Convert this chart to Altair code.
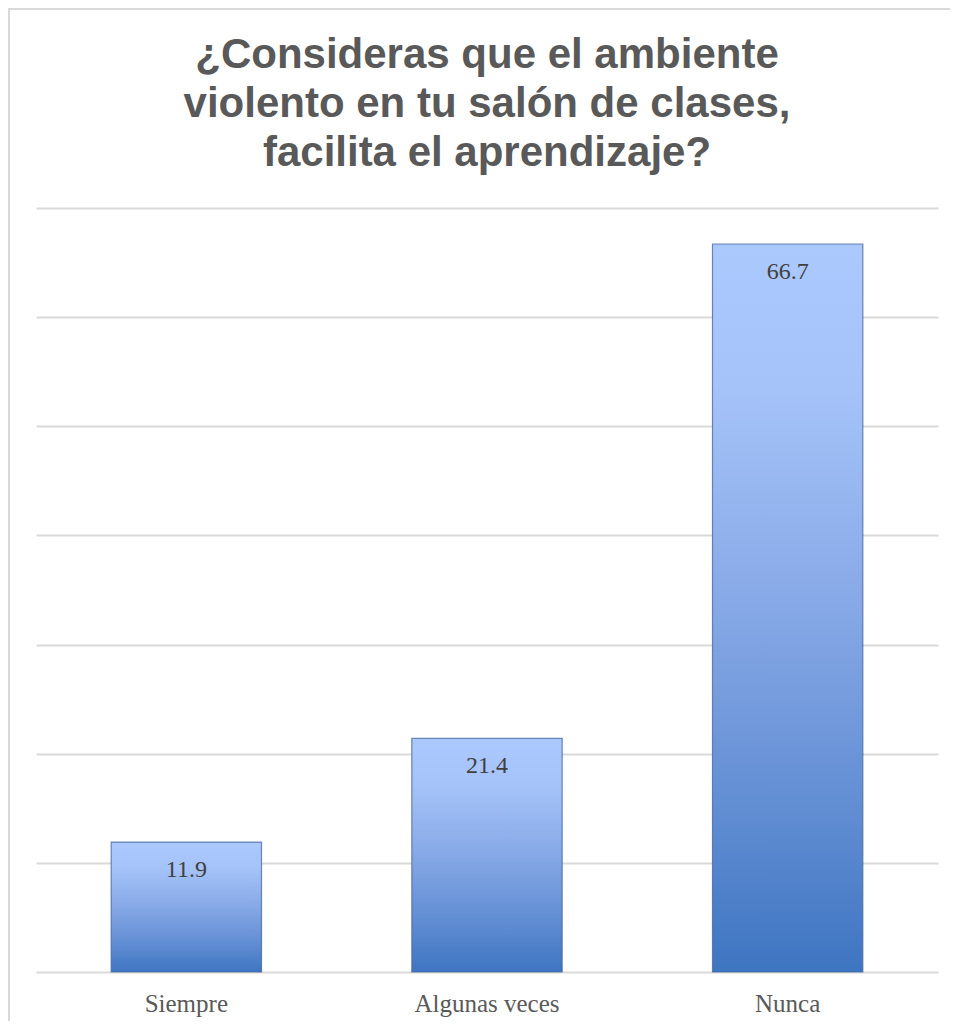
import altair as alt
import pandas as pd

categories = ["Siempre", "Algunas veces", "Nunca"]
values = [11.9, 21.4, 66.7]
title_lines = ["¿Consideras que el ambiente", "violento en tu salón de clases,", "facilita el aprendizaje?"]

df = pd.DataFrame({"cat": categories, "val": values})

W, H = 902, 764

x_enc = alt.X("cat:N", sort=categories, title=None,
              scale=alt.Scale(paddingInner=0.5, paddingOuter=0.25),
              axis=alt.Axis(labelAngle=0, labelFont="Liberation Serif", labelFontSize=25,
                            labelColor="#595959", labelPadding=19, ticks=False, domain=False))
y_enc = alt.Y("val:Q", title=None, scale=alt.Scale(domain=[0, 70], nice=False),
              axis=alt.Axis(values=[0, 10, 20, 30, 40, 50, 60, 70], labels=False, ticks=False,
                            domain=False, grid=True, gridColor="#d9d9d9", gridWidth=2))

grad = alt.Gradient(
    gradient="linear",
    stops=[alt.GradientStop(color="#abc9fd", offset=0),
           alt.GradientStop(color="#a5c3f9", offset=0.2),
           alt.GradientStop(color="#86a8e6", offset=0.5),
           alt.GradientStop(color="#6590d5", offset=0.75),
           alt.GradientStop(color="#3e75c1", offset=1)],
    x1=0, x2=0, y1=0, y2=1,
)

bars = alt.Chart(df).mark_bar(color=grad, stroke="#41649e", strokeWidth=1.2, strokeOpacity=0.75).encode(
    x=x_enc, y=y_enc
)

labels = alt.Chart(df).mark_text(font="Liberation Serif", fontSize=24, color="#404040",
                                 baseline="alphabetic", dy=35).encode(
    x=alt.X("cat:N", sort=categories),
    y=alt.Y("val:Q"),
    text=alt.Text("val:Q", format=".1f"),
)

border_top = alt.Chart(df).mark_rule(color="#d9d9d9", strokeWidth=2).encode(
    x=alt.value(-28), x2=alt.value(920), y=alt.value(-199)
)
border_left = alt.Chart(df).mark_rule(color="#d9d9d9", strokeWidth=2).encode(
    x=alt.value(-27), y=alt.value(-199), y2=alt.value(820)
)

chart = alt.layer(border_top, border_left, bars, labels).properties(
    width=W, height=H,
    autosize=alt.AutoSizeParams(type="none"),
    padding={"left": 28, "top": 200, "right": 12, "bottom": 49},
    title=alt.Title(text=title_lines, font="Liberation Sans", fontSize=42, fontWeight="bold",
                    color="#595959", lineHeight=49, anchor="middle", baseline="bottom", offset=-209),
).configure_view(stroke=None)

chart.save("out.html", embed_options={"renderer": "svg", "actions": False})
